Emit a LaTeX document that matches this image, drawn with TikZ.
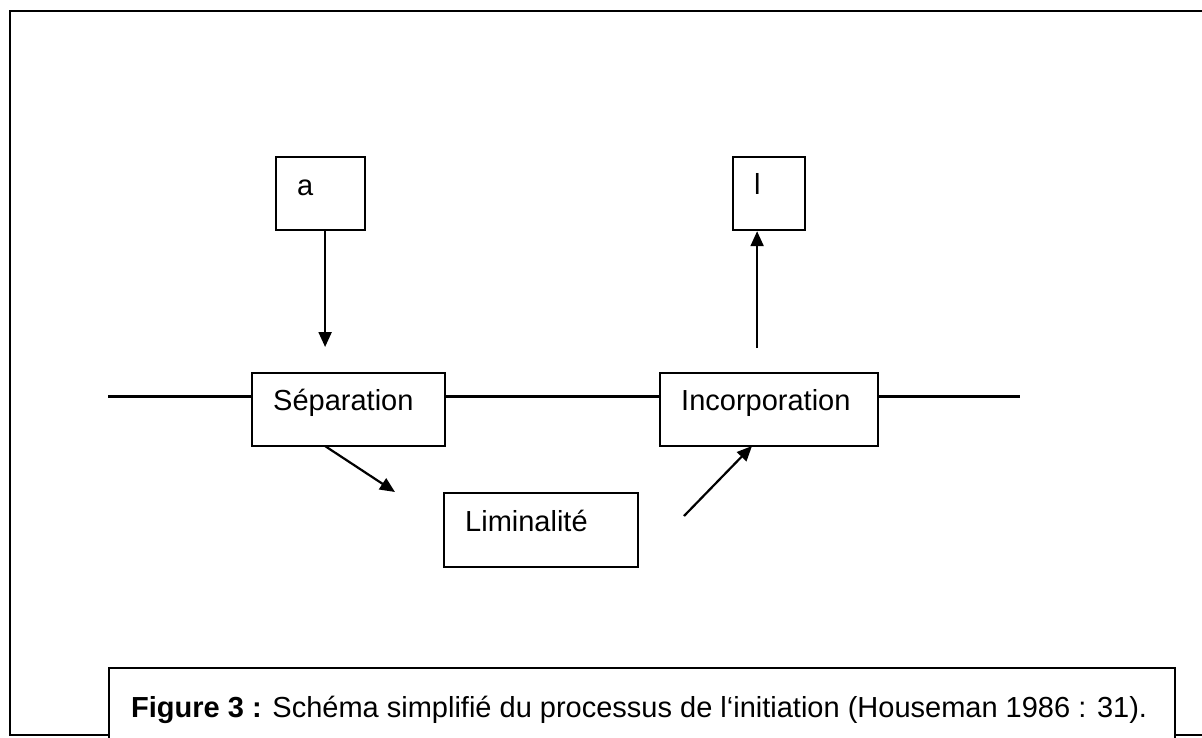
\documentclass[tikz,border=0pt]{standalone}
\usepackage{fontspec}
\setmainfont{Liberation Sans}
\usetikzlibrary{arrows.meta}
\tikzset{
  boxst/.style={draw, line width=2.2pt, rectangle, inner sep=0pt, anchor=north west},
  lbl/.style={anchor=base west, inner sep=0pt, font=\fontsize{29}{34}\selectfont},
  conn/.style={line width=2.2pt},
  arr/.style={line width=2.2pt, -{Triangle[length=15pt,width=13pt]}},
}
\begin{document}
\begin{tikzpicture}[x=1pt,y=-1pt]
\useasboundingbox (0,0) rectangle (1202,737);
% outer frame
\draw[line width=2.6pt] (10,11) rectangle (1230,735);
% boxes
\node[boxst, minimum width=89pt, minimum height=73pt] (a) at (275,156) {};
\node[boxst, minimum width=72pt, minimum height=73pt] (l) at (732,156) {};
\node[boxst, minimum width=193pt, minimum height=73pt] (sep) at (251,372) {};
\node[boxst, minimum width=218pt, minimum height=73pt] (inc) at (659,372) {};
\node[boxst, minimum width=194pt, minimum height=74pt] (lim) at (443,492) {};
% labels
\node[lbl] (ta) at (297,195) {a};
\node[lbl] (tl) at (754,194) {l};
\node[lbl] (tsep) at (273,410) {Séparation};
\node[lbl] (tinc) at (681,410) {Incorporation};
\node[lbl] (tlim) at (465,531) {Liminalité};
% line ends
\coordinate (lstart) at (108,396.5);
\coordinate (lend) at (1020,396.5);
\draw[conn] (lstart) -- (lstart -| sep.west);
\draw[conn] (sep.east |- lstart) -- (inc.west |- lstart);
\draw[conn] (inc.east |- lend) -- (lend);
% arrows
\draw[arr, shorten >=25pt] ([xshift=4.5pt]a.south) -- ([xshift=4.5pt]a.south |- sep.north);
\draw[arr, shorten <=24pt] ([xshift=-12pt]l.south |- inc.north) -- ([xshift=-12pt]l.south);
\coordinate (s1) at (325,446);
\coordinate (s2) at (395,492);
\draw[arr] (s1) -- (s2);
\coordinate (i1) at (684,516);
\coordinate (i2) at (752,446);
\draw[arr] (i1) -- (i2);
% caption
\node[draw, line width=2.2pt, fill=white, anchor=north west, inner sep=0pt, minimum width=1066pt, minimum height=90pt] (cap) at (108,667) {};
\node[lbl] (tcap) at (131,717) {\textbf{Figure 3 :} Schéma simplifié du processus de l‘initiation (Houseman 1986 : 31).};
\end{tikzpicture}
\end{document}
